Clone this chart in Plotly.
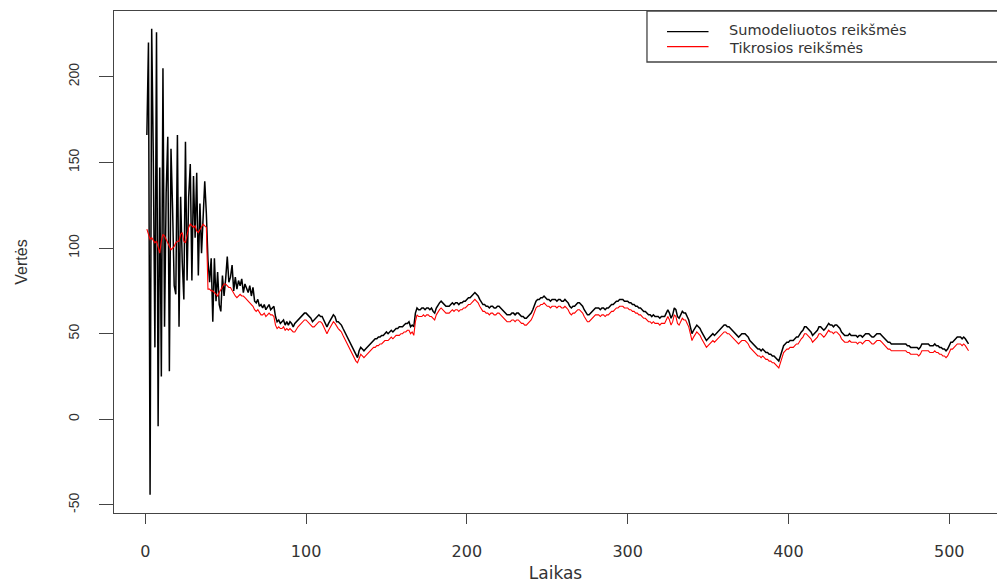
import plotly.graph_objects as go

# Time index
laikas = list(range(1, 513))

# Observed (true) values
tikrosios = [
    111, 108, 105, 106, 104, 103, 104, 100, 97, 104, 108, 107, 105, 103, 100, 99, 100, 101, 103, 104,
    104, 108, 109, 104, 103, 108, 112, 114, 113, 112, 113, 110, 109, 111, 113, 114, 113, 112, 76, 76,
    75, 75, 74, 73, 72, 74, 76, 78, 79, 79, 78, 77, 77, 75, 73, 72, 71, 72, 73, 72,
    72, 71, 70, 69, 68, 67, 66, 64, 63, 64, 62, 61, 61, 62, 60, 61, 62, 61, 61, 60,
    55, 53, 54, 53, 53, 54, 52, 53, 52, 53, 52, 51, 51, 53, 54, 55, 56, 57, 58, 58,
    57, 56, 55, 54, 54, 55, 56, 57, 57, 56, 54, 52, 50, 52, 54, 56, 57, 56, 54, 53,
    52, 51, 49, 47, 45, 43, 41, 39, 37, 35, 34, 33, 36, 38, 37, 36, 37, 38, 39, 40,
    41, 42, 42, 43, 43, 44, 44, 45, 46, 46, 46, 47, 48, 47, 48, 49, 49, 49, 50, 50,
    51, 51, 52, 52, 50, 51, 49, 57, 61, 60, 60, 60, 61, 60, 61, 61, 60, 60, 59, 58,
    61, 63, 64, 65, 64, 63, 62, 62, 62, 63, 64, 63, 64, 64, 63, 64, 64, 65, 65, 66,
    67, 67, 68, 69, 70, 69, 68, 66, 64, 63, 63, 62, 62, 61, 62, 62, 61, 61, 62, 62,
    61, 60, 59, 58, 57, 57, 57, 58, 58, 57, 58, 58, 57, 56, 56, 55, 55, 56, 57, 58,
    60, 63, 65, 66, 66, 67, 67, 68, 67, 66, 66, 65, 66, 66, 66, 65, 66, 66, 65, 65,
    66, 65, 64, 62, 61, 62, 62, 63, 64, 64, 63, 62, 60, 58, 57, 57, 58, 59, 60, 61,
    61, 61, 60, 61, 61, 60, 61, 61, 62, 63, 63, 64, 65, 65, 66, 66, 66, 65, 65, 65,
    64, 64, 63, 63, 62, 62, 61, 61, 60, 59, 59, 58, 57, 57, 56, 57, 56, 56, 56, 55,
    56, 56, 56, 58, 60, 58, 55, 57, 61, 60, 56, 55, 57, 59, 58, 58, 56, 54, 50, 46,
    48, 50, 51, 50, 49, 47, 45, 43, 42, 43, 44, 45, 46, 45, 46, 47, 48, 49, 50, 51,
    51, 50, 50, 49, 48, 47, 46, 45, 44, 45, 46, 46, 46, 45, 44, 42, 41, 40, 39, 38,
    37, 37, 36, 37, 36, 35, 35, 34, 34, 33, 33, 32, 31, 30, 33, 36, 39, 40, 41, 41,
    42, 42, 42, 43, 44, 44, 46, 47, 48, 50, 50, 49, 48, 47, 45, 46, 47, 48, 50, 50,
    49, 48, 49, 51, 52, 51, 51, 50, 51, 51, 50, 49, 47, 46, 45, 45, 45, 46, 45, 45,
    45, 45, 44, 45, 45, 44, 45, 46, 46, 46, 45, 44, 44, 45, 46, 46, 46, 45, 44, 43,
    42, 41, 41, 40, 40, 40, 40, 40, 40, 40, 40, 40, 40, 39, 39, 38, 38, 38, 38, 38,
    37, 38, 40, 40, 40, 40, 40, 39, 39, 39, 40, 39, 39, 38, 38, 37, 37, 36, 37, 39,
    41, 41, 42, 43, 44, 44, 44, 43, 44, 43, 41, 40,
]

# Simulated values
sumodeliuotos = [
    166, 220, -44, 228, 153, 42, 226, -4, 147, 25, 205, 54, 132, 165, 28, 158, 123, 78, 73, 166,
    54, 130, 92, 70, 162, 81, 130, 149, 81, 142, 106, 144, 84, 126, 97, 123, 139, 120, 93, 80,
    94, 57, 94, 69, 86, 67, 63, 84, 72, 82, 95, 80, 83, 90, 75, 83, 76, 81, 78, 82,
    74, 79, 76, 74, 78, 72, 77, 69, 68, 70, 66, 67, 65, 67, 64, 66, 67, 64, 65, 66,
    60, 57, 58, 56, 57, 58, 55, 57, 55, 57, 56, 54, 56, 57, 58, 59, 60, 61, 62, 62,
    61, 60, 59, 57, 58, 59, 60, 61, 60, 60, 58, 56, 54, 56, 58, 60, 61, 60, 57, 57,
    56, 55, 53, 51, 49, 47, 45, 43, 41, 39, 38, 36, 40, 42, 41, 40, 41, 42, 43, 44,
    45, 46, 47, 47, 48, 48, 49, 49, 50, 51, 50, 51, 52, 51, 52, 53, 53, 54, 54, 54,
    55, 56, 56, 57, 54, 55, 54, 62, 65, 64, 64, 65, 65, 64, 65, 65, 64, 65, 63, 62,
    65, 67, 68, 69, 68, 67, 66, 66, 66, 67, 68, 67, 68, 68, 67, 68, 68, 69, 69, 70,
    71, 71, 72, 73, 74, 73, 72, 70, 68, 67, 67, 66, 66, 65, 66, 66, 65, 65, 66, 66,
    65, 64, 63, 62, 61, 61, 61, 62, 62, 61, 62, 62, 61, 60, 60, 59, 59, 60, 61, 62,
    64, 67, 69, 70, 70, 71, 71, 72, 71, 70, 70, 69, 70, 70, 70, 69, 70, 70, 69, 69,
    70, 69, 68, 66, 65, 66, 66, 67, 68, 68, 67, 66, 64, 62, 61, 61, 62, 63, 64, 65,
    65, 65, 64, 65, 65, 64, 65, 65, 66, 67, 67, 68, 69, 69, 70, 70, 70, 69, 69, 69,
    68, 68, 67, 67, 66, 66, 65, 65, 64, 63, 63, 62, 61, 61, 60, 61, 60, 60, 60, 59,
    60, 60, 60, 62, 64, 62, 59, 61, 65, 64, 60, 59, 61, 63, 62, 62, 60, 58, 54, 50,
    52, 54, 55, 54, 53, 51, 49, 47, 46, 47, 48, 49, 50, 49, 50, 51, 52, 53, 54, 55,
    55, 54, 54, 53, 52, 51, 50, 49, 48, 49, 50, 50, 50, 49, 48, 46, 45, 44, 43, 42,
    41, 41, 40, 41, 40, 39, 39, 38, 38, 37, 37, 36, 35, 34, 37, 40, 43, 44, 45, 45,
    46, 46, 46, 47, 48, 48, 50, 51, 52, 54, 54, 53, 52, 51, 49, 50, 51, 52, 54, 54,
    53, 52, 53, 55, 56, 55, 55, 54, 55, 55, 54, 53, 51, 50, 49, 49, 49, 50, 49, 49,
    49, 49, 48, 49, 49, 48, 49, 50, 50, 50, 49, 48, 48, 49, 50, 50, 50, 49, 48, 47,
    46, 45, 45, 44, 44, 44, 44, 44, 44, 44, 44, 44, 44, 43, 43, 42, 42, 42, 42, 42,
    41, 42, 44, 44, 44, 44, 44, 43, 43, 43, 44, 43, 43, 42, 42, 41, 41, 40, 41, 43,
    45, 45, 46, 47, 48, 48, 48, 47, 48, 47, 45, 44,
]

x_ticks = [0, 100, 200, 300, 400, 500]
y_ticks = [-50, 0, 50, 100, 150, 200]
legend_labels = ["Sumodeliuotos reikšmės", "Tikrosios reikšmės"]
series_colors = ["#000000", "#ff0000"]

TEXT = "#333333"
FRAME = "#444444"

fig = go.Figure()
fig.add_trace(go.Scatter(x=laikas, y=sumodeliuotos, mode="lines",
                         line=dict(color=series_colors[0], width=1.5),
                         name=legend_labels[0], showlegend=False))
fig.add_trace(go.Scatter(x=laikas, y=tikrosios, mode="lines",
                         line=dict(color=series_colors[1], width=1.1),
                         name=legend_labels[1], showlegend=False))

# Legend box drawn in paper coordinates (top-right corner of the panel)
lx0, lx1, ly0, ly1 = 0.6036, 1.02, 0.8984, 1.0
shapes = [dict(type="rect", xref="paper", yref="paper", x0=lx0, x1=lx1, y0=ly0, y1=ly1,
               line=dict(color=FRAME, width=1.3), fillcolor="white", layer="above")]
annotations = []
line_y = [0.9588, 0.9289]
text_y = [0.9620, 0.9270]
for lbl, col, yy, ty in zip(legend_labels, series_colors, line_y, text_y):
    shapes.append(dict(type="line", xref="paper", yref="paper", x0=0.6263, x1=0.6733,
                       y0=yy, y1=yy, line=dict(color=col, width=1.2), layer="above"))
    annotations.append(dict(text=lbl, xref="paper", yref="paper", x=0.6942, y=ty,
                            xanchor="left", yanchor="middle", showarrow=False,
                            font=dict(family="DejaVu Sans", size=14.5, color=TEXT)))

fig.update_layout(
    width=997, height=584,
    margin=dict(l=114, r=0, t=11, b=71),
    paper_bgcolor="white", plot_bgcolor="white",
    shapes=shapes, annotations=annotations,
    showlegend=False,
)
fig.update_xaxes(
    range=[-19.44, 529.7], tickvals=x_ticks, ticktext=[str(v) for v in x_ticks],
    showgrid=False, zeroline=False,
    showline=True, mirror=True, linecolor=FRAME, linewidth=1.3,
    ticks="outside", ticklen=10, tickwidth=1.3, tickcolor=FRAME,
    tickfont=dict(family="DejaVu Sans", size=16, color=TEXT),
    ticklabelstandoff=14,
    title=dict(text="Laikas", font=dict(family="DejaVu Sans", size=17, color=TEXT), standoff=6),
)
fig.update_yaxes(
    range=[-54.7, 238.4], tickvals=y_ticks, ticktext=[str(v) for v in y_ticks],
    showgrid=False, zeroline=False,
    showline=True, mirror=False, linecolor=FRAME, linewidth=1.3,
    ticks="outside", ticklen=14, tickwidth=1.3, tickcolor=FRAME,
    tickangle=-90,
    tickfont=dict(family="Liberation Sans", size=14, color=TEXT),
    ticklabelstandoff=14,
    title=dict(text="Vertės", font=dict(family="Liberation Sans", size=16, color=TEXT), standoff=34),
)

fig.write_html("out.html")
